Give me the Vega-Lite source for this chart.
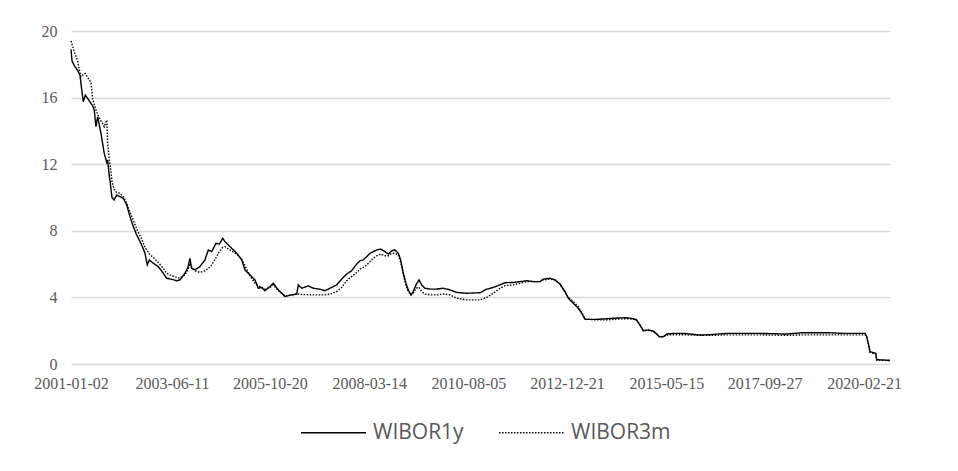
{
  "$schema": "https://vega.github.io/schema/vega-lite/v6.json",
  "width": 819,
  "height": 333,
  "autosize": {"type": "none"},
  "padding": {"left": 71, "top": 31, "right": 68, "bottom": 107},
  "background": "white",
  "config": {"view": {"stroke": null}, "font": "Liberation Serif"},
  "data": {"values": [
    {"date": "2001-01-02", "WIBOR1y": 18.9, "WIBOR3m": 19.4},
    {"date": "2001-01-11", "WIBOR1y": 18.2, "WIBOR3m": 19.2},
    {"date": "2001-02-02", "WIBOR1y": 17.9, "WIBOR3m": 18.7},
    {"date": "2001-02-28", "WIBOR1y": 17.65, "WIBOR3m": 18.25},
    {"date": "2001-03-22", "WIBOR1y": 17.35, "WIBOR3m": 17.5},
    {"date": "2001-03-30", "WIBOR1y": 16.9, "WIBOR3m": 17.25},
    {"date": "2001-04-09", "WIBOR1y": 16.35, "WIBOR3m": 17.3},
    {"date": "2001-04-20", "WIBOR1y": 15.75, "WIBOR3m": 17.4},
    {"date": "2001-05-08", "WIBOR1y": 16.15, "WIBOR3m": 17.45},
    {"date": "2001-05-29", "WIBOR1y": 15.95, "WIBOR3m": 17.2},
    {"date": "2001-06-27", "WIBOR1y": 15.65, "WIBOR3m": 16.9},
    {"date": "2001-07-12", "WIBOR1y": 15.5, "WIBOR3m": 15.9},
    {"date": "2001-07-26", "WIBOR1y": 15.25, "WIBOR3m": 15.6},
    {"date": "2001-08-10", "WIBOR1y": 14.25, "WIBOR3m": 15.25},
    {"date": "2001-08-25", "WIBOR1y": 14.85, "WIBOR3m": 15.0},
    {"date": "2001-09-23", "WIBOR1y": 13.85, "WIBOR3m": 14.6},
    {"date": "2001-10-22", "WIBOR1y": 12.65, "WIBOR3m": 14.25},
    {"date": "2001-11-13", "WIBOR1y": 12.1, "WIBOR3m": 14.65},
    {"date": "2001-11-21", "WIBOR1y": 12.25, "WIBOR3m": 13.25},
    {"date": "2001-12-06", "WIBOR1y": 11.25, "WIBOR3m": 12.25},
    {"date": "2001-12-12", "WIBOR1y": 11.0, "WIBOR3m": 12.0},
    {"date": "2001-12-29", "WIBOR1y": 10.0, "WIBOR3m": 11.0},
    {"date": "2002-01-16", "WIBOR1y": 9.85, "WIBOR3m": 10.5},
    {"date": "2002-02-09", "WIBOR1y": 10.15, "WIBOR3m": 10.3},
    {"date": "2002-03-10", "WIBOR1y": 10.05, "WIBOR3m": 10.25},
    {"date": "2002-04-08", "WIBOR1y": 9.95, "WIBOR3m": 10.05},
    {"date": "2002-05-08", "WIBOR1y": 9.55, "WIBOR3m": 9.65},
    {"date": "2002-06-06", "WIBOR1y": 8.85, "WIBOR3m": 9.1},
    {"date": "2002-07-05", "WIBOR1y": 8.25, "WIBOR3m": 8.65},
    {"date": "2002-08-04", "WIBOR1y": 7.75, "WIBOR3m": 8.1},
    {"date": "2002-09-17", "WIBOR1y": 7.15, "WIBOR3m": 7.5},
    {"date": "2002-10-16", "WIBOR1y": 6.65, "WIBOR3m": 7.0},
    {"date": "2002-11-05", "WIBOR1y": 5.95, "WIBOR3m": 6.8},
    {"date": "2002-11-23", "WIBOR1y": 6.25, "WIBOR3m": 6.6},
    {"date": "2002-12-28", "WIBOR1y": 6.05, "WIBOR3m": 6.4},
    {"date": "2003-02-10", "WIBOR1y": 5.85, "WIBOR3m": 6.1},
    {"date": "2003-03-26", "WIBOR1y": 5.45, "WIBOR3m": 5.75},
    {"date": "2003-04-25", "WIBOR1y": 5.15, "WIBOR3m": 5.45},
    {"date": "2003-06-08", "WIBOR1y": 5.09, "WIBOR3m": 5.3},
    {"date": "2003-07-22", "WIBOR1y": 5.0, "WIBOR3m": 5.2},
    {"date": "2003-08-20", "WIBOR1y": 5.05, "WIBOR3m": 5.15},
    {"date": "2003-10-03", "WIBOR1y": 5.45, "WIBOR3m": 5.35},
    {"date": "2003-11-01", "WIBOR1y": 5.85, "WIBOR3m": 5.7},
    {"date": "2003-11-16", "WIBOR1y": 6.35, "WIBOR3m": 6.05},
    {"date": "2003-12-01", "WIBOR1y": 5.75, "WIBOR3m": 5.8},
    {"date": "2003-12-30", "WIBOR1y": 5.65, "WIBOR3m": 5.6},
    {"date": "2004-02-12", "WIBOR1y": 5.85, "WIBOR3m": 5.5},
    {"date": "2004-03-27", "WIBOR1y": 6.25, "WIBOR3m": 5.6},
    {"date": "2004-04-26", "WIBOR1y": 6.85, "WIBOR3m": 5.75},
    {"date": "2004-05-26", "WIBOR1y": 6.75, "WIBOR3m": 5.95},
    {"date": "2004-07-03", "WIBOR1y": 7.25, "WIBOR3m": 6.4},
    {"date": "2004-08-01", "WIBOR1y": 7.2, "WIBOR3m": 6.75},
    {"date": "2004-08-31", "WIBOR1y": 7.55, "WIBOR3m": 7.0},
    {"date": "2004-09-20", "WIBOR1y": 7.35, "WIBOR3m": 7.05},
    {"date": "2004-11-03", "WIBOR1y": 7.05, "WIBOR3m": 6.85},
    {"date": "2005-01-02", "WIBOR1y": 6.65, "WIBOR3m": 6.6},
    {"date": "2005-02-14", "WIBOR1y": 6.25, "WIBOR3m": 6.3},
    {"date": "2005-03-15", "WIBOR1y": 5.65, "WIBOR3m": 5.9},
    {"date": "2005-04-28", "WIBOR1y": 5.35, "WIBOR3m": 5.3},
    {"date": "2005-06-11", "WIBOR1y": 5.05, "WIBOR3m": 4.85},
    {"date": "2005-07-10", "WIBOR1y": 4.55, "WIBOR3m": 4.7},
    {"date": "2005-08-09", "WIBOR1y": 4.6, "WIBOR3m": 4.6},
    {"date": "2005-09-07", "WIBOR1y": 4.4, "WIBOR3m": 4.5},
    {"date": "2005-10-21", "WIBOR1y": 4.65, "WIBOR3m": 4.6},
    {"date": "2005-11-19", "WIBOR1y": 4.85, "WIBOR3m": 4.75},
    {"date": "2006-01-03", "WIBOR1y": 4.45, "WIBOR3m": 4.4},
    {"date": "2006-03-03", "WIBOR1y": 4.05, "WIBOR3m": 4.1},
    {"date": "2006-05-01", "WIBOR1y": 4.15, "WIBOR3m": 4.15},
    {"date": "2006-06-14", "WIBOR1y": 4.2, "WIBOR3m": 4.2},
    {"date": "2006-06-28", "WIBOR1y": 4.75, "WIBOR3m": 4.2},
    {"date": "2006-07-28", "WIBOR1y": 4.55, "WIBOR3m": 4.18},
    {"date": "2006-09-24", "WIBOR1y": 4.69, "WIBOR3m": 4.16},
    {"date": "2006-11-07", "WIBOR1y": 4.55, "WIBOR3m": 4.15},
    {"date": "2007-01-05", "WIBOR1y": 4.49, "WIBOR3m": 4.15},
    {"date": "2007-02-18", "WIBOR1y": 4.4, "WIBOR3m": 4.15},
    {"date": "2007-04-03", "WIBOR1y": 4.55, "WIBOR3m": 4.2},
    {"date": "2007-06-01", "WIBOR1y": 4.75, "WIBOR3m": 4.35},
    {"date": "2007-07-15", "WIBOR1y": 5.1, "WIBOR3m": 4.6},
    {"date": "2007-08-28", "WIBOR1y": 5.4, "WIBOR3m": 5.0},
    {"date": "2007-10-11", "WIBOR1y": 5.6, "WIBOR3m": 5.25},
    {"date": "2007-11-24", "WIBOR1y": 6.0, "WIBOR3m": 5.5},
    {"date": "2007-12-24", "WIBOR1y": 6.2, "WIBOR3m": 5.7},
    {"date": "2008-01-22", "WIBOR1y": 6.25, "WIBOR3m": 5.8},
    {"date": "2008-02-21", "WIBOR1y": 6.45, "WIBOR3m": 5.95},
    {"date": "2008-03-21", "WIBOR1y": 6.65, "WIBOR3m": 6.15},
    {"date": "2008-04-19", "WIBOR1y": 6.75, "WIBOR3m": 6.35},
    {"date": "2008-05-19", "WIBOR1y": 6.85, "WIBOR3m": 6.5},
    {"date": "2008-06-23", "WIBOR1y": 6.9, "WIBOR3m": 6.6},
    {"date": "2008-07-31", "WIBOR1y": 6.75, "WIBOR3m": 6.5},
    {"date": "2008-08-29", "WIBOR1y": 6.6, "WIBOR3m": 6.5},
    {"date": "2008-09-28", "WIBOR1y": 6.8, "WIBOR3m": 6.65},
    {"date": "2008-10-27", "WIBOR1y": 6.85, "WIBOR3m": 6.65},
    {"date": "2008-11-25", "WIBOR1y": 6.65, "WIBOR3m": 6.55},
    {"date": "2008-12-16", "WIBOR1y": 6.25, "WIBOR3m": 6.1},
    {"date": "2009-01-08", "WIBOR1y": 5.45, "WIBOR3m": 5.4},
    {"date": "2009-02-01", "WIBOR1y": 4.85, "WIBOR3m": 4.7},
    {"date": "2009-02-21", "WIBOR1y": 4.45, "WIBOR3m": 4.35},
    {"date": "2009-03-17", "WIBOR1y": 4.15, "WIBOR3m": 4.15},
    {"date": "2009-04-06", "WIBOR1y": 4.35, "WIBOR3m": 4.25},
    {"date": "2009-04-30", "WIBOR1y": 4.75, "WIBOR3m": 4.55},
    {"date": "2009-05-27", "WIBOR1y": 5.05, "WIBOR3m": 4.6},
    {"date": "2009-06-19", "WIBOR1y": 4.75, "WIBOR3m": 4.35},
    {"date": "2009-07-18", "WIBOR1y": 4.55, "WIBOR3m": 4.2},
    {"date": "2009-08-31", "WIBOR1y": 4.5, "WIBOR3m": 4.15},
    {"date": "2009-10-29", "WIBOR1y": 4.5, "WIBOR3m": 4.15},
    {"date": "2009-12-27", "WIBOR1y": 4.55, "WIBOR3m": 4.2},
    {"date": "2010-02-24", "WIBOR1y": 4.45, "WIBOR3m": 4.15},
    {"date": "2010-04-24", "WIBOR1y": 4.3, "WIBOR3m": 3.95},
    {"date": "2010-07-21", "WIBOR1y": 4.25, "WIBOR3m": 3.85},
    {"date": "2010-11-15", "WIBOR1y": 4.28, "WIBOR3m": 3.85},
    {"date": "2011-01-13", "WIBOR1y": 4.49, "WIBOR3m": 4.0},
    {"date": "2011-03-12", "WIBOR1y": 4.6, "WIBOR3m": 4.25},
    {"date": "2011-05-10", "WIBOR1y": 4.75, "WIBOR3m": 4.55},
    {"date": "2011-06-23", "WIBOR1y": 4.88, "WIBOR3m": 4.7},
    {"date": "2011-09-05", "WIBOR1y": 4.9, "WIBOR3m": 4.75},
    {"date": "2011-11-03", "WIBOR1y": 4.95, "WIBOR3m": 4.85},
    {"date": "2012-01-02", "WIBOR1y": 5.0, "WIBOR3m": 4.95},
    {"date": "2012-02-28", "WIBOR1y": 4.95, "WIBOR3m": 4.95},
    {"date": "2012-04-27", "WIBOR1y": 4.95, "WIBOR3m": 4.95},
    {"date": "2012-05-26", "WIBOR1y": 5.1, "WIBOR3m": 5.05},
    {"date": "2012-07-24", "WIBOR1y": 5.15, "WIBOR3m": 5.1},
    {"date": "2012-09-06", "WIBOR1y": 5.05, "WIBOR3m": 5.05},
    {"date": "2012-10-20", "WIBOR1y": 4.8, "WIBOR3m": 4.8},
    {"date": "2012-12-03", "WIBOR1y": 4.35, "WIBOR3m": 4.3},
    {"date": "2013-01-02", "WIBOR1y": 3.95, "WIBOR3m": 4.0},
    {"date": "2013-02-14", "WIBOR1y": 3.65, "WIBOR3m": 3.75},
    {"date": "2013-03-30", "WIBOR1y": 3.35, "WIBOR3m": 3.45},
    {"date": "2013-04-29", "WIBOR1y": 3.05, "WIBOR3m": 3.1},
    {"date": "2013-05-29", "WIBOR1y": 2.68, "WIBOR3m": 2.7},
    {"date": "2013-09-09", "WIBOR1y": 2.68, "WIBOR3m": 2.65},
    {"date": "2013-12-06", "WIBOR1y": 2.72, "WIBOR3m": 2.65},
    {"date": "2014-03-04", "WIBOR1y": 2.76, "WIBOR3m": 2.7},
    {"date": "2014-05-31", "WIBOR1y": 2.78, "WIBOR3m": 2.72},
    {"date": "2014-07-28", "WIBOR1y": 2.72, "WIBOR3m": 2.7},
    {"date": "2014-08-27", "WIBOR1y": 2.64, "WIBOR3m": 2.62},
    {"date": "2014-09-25", "WIBOR1y": 2.34, "WIBOR3m": 2.34},
    {"date": "2014-10-24", "WIBOR1y": 2.0, "WIBOR3m": 2.0},
    {"date": "2014-12-07", "WIBOR1y": 2.04, "WIBOR3m": 2.02},
    {"date": "2015-01-20", "WIBOR1y": 1.98, "WIBOR3m": 1.95},
    {"date": "2015-02-19", "WIBOR1y": 1.8, "WIBOR3m": 1.8},
    {"date": "2015-03-14", "WIBOR1y": 1.64, "WIBOR3m": 1.64},
    {"date": "2015-04-19", "WIBOR1y": 1.64, "WIBOR3m": 1.65},
    {"date": "2015-05-19", "WIBOR1y": 1.8, "WIBOR3m": 1.74},
    {"date": "2015-07-16", "WIBOR1y": 1.84, "WIBOR3m": 1.76},
    {"date": "2015-10-12", "WIBOR1y": 1.84, "WIBOR3m": 1.76},
    {"date": "2015-12-10", "WIBOR1y": 1.8, "WIBOR3m": 1.74},
    {"date": "2016-03-07", "WIBOR1y": 1.74, "WIBOR3m": 1.72},
    {"date": "2016-06-03", "WIBOR1y": 1.76, "WIBOR3m": 1.72},
    {"date": "2016-10-29", "WIBOR1y": 1.84, "WIBOR3m": 1.75},
    {"date": "2017-08-18", "WIBOR1y": 1.84, "WIBOR3m": 1.75},
    {"date": "2018-04-10", "WIBOR1y": 1.8, "WIBOR3m": 1.72},
    {"date": "2018-09-03", "WIBOR1y": 1.88, "WIBOR3m": 1.75},
    {"date": "2019-03-29", "WIBOR1y": 1.88, "WIBOR3m": 1.75},
    {"date": "2019-08-22", "WIBOR1y": 1.84, "WIBOR3m": 1.75},
    {"date": "2020-03-01", "WIBOR1y": 1.84, "WIBOR3m": 1.75},
    {"date": "2020-03-15", "WIBOR1y": 1.64, "WIBOR3m": 1.6},
    {"date": "2020-03-29", "WIBOR1y": 1.24, "WIBOR3m": 1.2},
    {"date": "2020-04-13", "WIBOR1y": 0.74, "WIBOR3m": 0.7},
    {"date": "2020-06-02", "WIBOR1y": 0.64, "WIBOR3m": 0.6},
    {"date": "2020-06-11", "WIBOR1y": 0.26, "WIBOR3m": 0.24},
    {"date": "2020-10-06", "WIBOR1y": 0.22, "WIBOR3m": 0.2}
  ]},
  "transform": [{"fold": ["WIBOR1y", "WIBOR3m"], "as": ["series", "value"]}],
  "mark": {"type": "line", "color": "black", "strokeWidth": 1.4},
  "encoding": {
    "x": {
      "field": "date",
      "type": "temporal",
      "scale": {"domain": [{"year": 2001, "month": 1, "date": 2}, {"year": 2020, "month": 10, "date": 6}]},
      "axis": {
        "title": null,
        "values": [
          {"year": 2001, "month": 1, "date": 2},
          {"year": 2003, "month": 6, "date": 11},
          {"year": 2005, "month": 10, "date": 20},
          {"year": 2008, "month": 3, "date": 14},
          {"year": 2010, "month": 8, "date": 5},
          {"year": 2012, "month": 12, "date": 21},
          {"year": 2015, "month": 5, "date": 15},
          {"year": 2017, "month": 9, "date": 27},
          {"year": 2020, "month": 2, "date": 21}
        ],
        "format": "%Y-%m-%d",
        "grid": false,
        "domain": false,
        "ticks": false,
        "labelFont": "Liberation Serif",
        "labelFontSize": 16,
        "labelColor": "#595959",
        "labelPadding": 11,
        "labelOverlap": false,
        "labelFlush": false,
        "labelBound": false
      }
    },
    "y": {
      "field": "value",
      "type": "quantitative",
      "scale": {"domain": [0, 20]},
      "axis": {
        "title": null,
        "values": [0, 4, 8, 12, 16, 20],
        "grid": true,
        "gridColor": "#d9d9d9",
        "gridWidth": 1.3,
        "domain": false,
        "ticks": false,
        "labelFont": "Liberation Serif",
        "labelFontSize": 16,
        "labelColor": "#595959",
        "labelPadding": 14
      }
    },
    "strokeDash": {
      "field": "series",
      "type": "nominal",
      "scale": {"domain": ["WIBOR1y", "WIBOR3m"], "range": [[1, 0], [1.5, 1.5]]},
      "legend": {
        "title": null,
        "orient": "none",
        "legendX": 229,
        "legendY": 368,
        "direction": "horizontal",
        "symbolType": "stroke",
        "symbolSize": 4225,
        "symbolStrokeColor": "black",
        "symbolStrokeWidth": 1.4,
        "labelFont": "Open Sans",
        "labelFontSize": 21,
        "labelColor": "#595959",
        "labelOffset": 6,
        "columnPadding": 32,
        "padding": 0
      }
    }
  }
}
